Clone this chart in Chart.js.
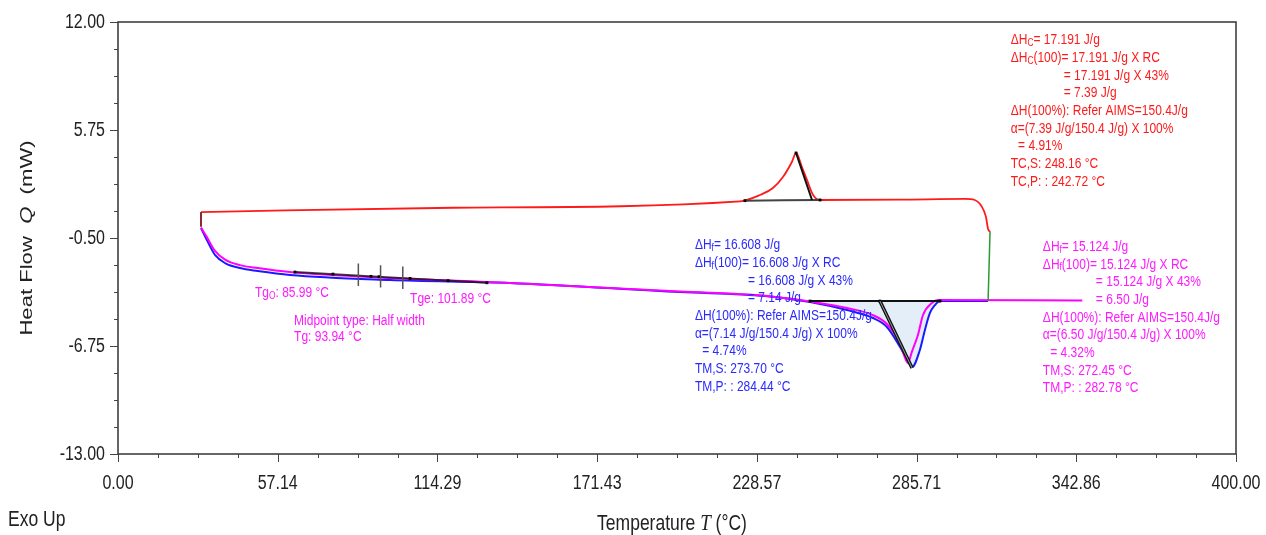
<!DOCTYPE html>
<html lang="en">
<head>
<meta charset="UTF-8">
<title>DSC heat flow</title>
<script src="https://cdn.jsdelivr.net/npm/chart.js@4.4.1/dist/chart.umd.min.js"></script>
<style>
  html, body { margin: 0; padding: 0; background: #fff; }
</style>
</head>
<body>
<canvas id="dsc" width="1266" height="535"></canvas>
<script>
// axis ticks
const xTicks = [0, 57.14, 114.29, 171.43, 228.57, 285.71, 342.86, 400];
const yTicks = [-13, -6.75, -0.5, 5.75, 12];

// heating run 1 (blue)
const blueT = [29.7, 31.8, 34.7, 38.3, 43.6, 50, 61.5, 97.3, 140.2, 201.1, 231.5, 247.6, 260.8, 270.1, 275.1, 279.8, 283.4, 284.1, 286.9, 288.7, 290.5, 292.3, 294.1, 311.3];
const blueQ = [0.08, -0.62, -1.48, -1.95, -2.24, -2.41, -2.64, -2.93, -3.10, -3.63, -3.86, -4.20, -4.67, -5.13, -5.65, -6.81, -7.85, -7.97, -6.98, -5.82, -4.84, -4.38, -4.15, -4.15];

// heating run 2 (magenta)
const magT = [29.7, 31.8, 34.7, 38.3, 43.6, 50, 61.5, 97.3, 140.2, 201.1, 231.5, 247.6, 260.8, 270.1, 275.1, 279.8, 282.6, 284.0, 286.2, 288.0, 291.2, 293.4, 345];
const magQ = [0.10, -0.45, -1.25, -1.75, -2.07, -2.24, -2.47, -2.82, -3.10, -3.60, -3.84, -4.18, -4.55, -4.96, -5.48, -6.60, -7.73, -7.10, -6.11, -4.96, -4.26, -4.09, -4.12];

// cooling run (red)
const redT = [29.7, 120, 222.5, 229.7, 234.3, 237.9, 241.1, 242.6, 244.7, 246.5, 248.7, 251.2, 280, 303, 306.5, 308.9, 310.5, 311.3, 312.0];
const redQ = [1.00, 1.25, 1.62, 1.99, 2.39, 3.03, 3.90, 4.42, 3.61, 2.86, 1.99, 1.70, 1.72, 1.76, 1.70, 1.35, 0.75, 0.02, -0.15];

// isothermal hold (green) and start jump (dark red)
const greenT = [312.0, 311.3];
const greenQ = [-0.15, -4.15];
const startT = [29.7, 29.7];
const startQ = [1.00, 0.15];

// melting area (shaded) and its baseline
const meltT = [247.6, 260.8, 270.1, 275.1, 279.8, 283.4, 284.1, 286.9, 288.7, 290.5, 292.3, 294.1];
const meltQ = [-4.20, -4.67, -5.13, -5.65, -6.81, -7.85, -7.97, -6.98, -5.82, -4.84, -4.38, -4.15];
const meltBase = -4.15;
const meltBaseT = [247.6, 294.1];
const meltTanT = [272.6, 284.1];
const meltTanQ = [-4.15, -8.02];

// crystallisation baseline and tangent
const crysBaseT = [224.3, 251.2];
const crysBaseQ = [1.66, 1.70];
const crysTanT = [242.6, 248.3];
const crysTanQ = [4.42, 1.70];

// glass transition construction
const tgLineT = [63.3, 132.0];
const tgLineQ = [-2.47, -3.09];
const tgDotT = [63.3, 76.9, 90.5, 93.4, 104.5, 118.1, 132.0];
const tgDotQ = [-2.47, -2.59, -2.72, -2.74, -2.84, -2.97, -3.09];
const tgMarkT = [85.99, 93.94, 101.89];
const tgMarkQ = [-2.63, -2.72, -2.80];

const pts = (ts, qs) => ts.map((t, i) => ({ x: t, y: qs[i] }));

// vertical marks on Tg line, broken with nulls
const tgMarks = [];
tgMarkT.forEach((t, i) => {
    tgMarks.push({ x: t, y: tgMarkQ[i] + 0.65 }, { x: t, y: tgMarkQ[i] - 0.65 }, { x: t, y: null });
});

const FONT = '"Liberation Sans", Arial, sans-serif';

function drawRich(ctx, parts, x, y, size, color, sy) {
    ctx.save();
    ctx.translate(x, y);
    ctx.scale(1, sy);
    ctx.fillStyle = color;
    ctx.textBaseline = 'middle';
    ctx.textAlign = 'left';
    let cx = 0;
    parts.forEach(p => {
        const s = typeof p === 'string' ? p : p.t;
        const sub = typeof p !== 'string' && p.sub;
        ctx.font = (sub ? size * 0.7 : size) + 'px ' + FONT;
        ctx.fillText(s, cx, sub ? size * 0.2 : 0);
        cx += ctx.measureText(s).width;
    });
    ctx.restore();
}

function block(ctx, lines, x, y, color) {
    lines.forEach((ln, i) => {
        drawRich(ctx, ln.p, x + (ln.ind || 0), y + i * 17.7, 12, color, 1.28);
    });
}

const redLines = [
    { p: ['ΔH', { t: 'C', sub: true }, '= 17.191 J/g'] },
    { p: ['ΔH', { t: 'C', sub: true }, '(100)= 17.191 J/g X RC'] },
    { ind: 53, p: ['= 17.191 J/g X 43%'] },
    { ind: 53, p: ['= 7.39 J/g'] },
    { p: ['ΔH(100%): Refer AIMS=150.4J/g'] },
    { p: ['α=(7.39 J/g/150.4 J/g) X 100%'] },
    { ind: 4, p: [' = 4.91%'] },
    { p: ['TC,S: 248.16 °C'] },
    { p: ['TC,P: : 242.72 °C'] }
];
const blueLines = [
    { p: ['ΔH', { t: 'f', sub: true }, '= 16.608 J/g'] },
    { p: ['ΔH', { t: 'f', sub: true }, '(100)= 16.608 J/g X RC'] },
    { ind: 53, p: ['= 16.608 J/g X 43%'] },
    { ind: 53, p: ['= 7.14 J/g'] },
    { p: ['ΔH(100%): Refer AIMS=150.4J/g'] },
    { p: ['α=(7.14 J/g/150.4 J/g) X 100%'] },
    { ind: 4, p: [' = 4.74%'] },
    { p: ['TM,S: 273.70 °C'] },
    { p: ['TM,P: : 284.44 °C'] }
];
const magLines = [
    { p: ['ΔH', { t: 'f', sub: true }, '= 15.124 J/g'] },
    { p: ['ΔH', { t: 'f', sub: true }, '(100)= 15.124 J/g X RC'] },
    { ind: 53, p: ['= 15.124 J/g X 43%'] },
    { ind: 53, p: ['= 6.50 J/g'] },
    { p: ['ΔH(100%): Refer AIMS=150.4J/g'] },
    { p: ['α=(6.50 J/g/150.4 J/g) X 100%'] },
    { ind: 4, p: [' = 4.32%'] },
    { p: ['TM,S: 272.45 °C'] },
    { p: ['TM,P: : 282.78 °C'] }
];

const decor = {
    id: 'decor',
    afterDraw(chart) {
        const { ctx, chartArea: a, scales: { x, y } } = chart;
        ctx.save();
        // frame
        ctx.strokeStyle = '#333';
        ctx.lineWidth = 1.5;
        ctx.strokeRect(a.left, a.top, a.right - a.left, a.bottom - a.top);

        // ticks
        ctx.lineWidth = 1;
        ctx.strokeStyle = '#444';
        ctx.beginPath();
        for (let i = 0; i <= 28; i++) {
            const px = Math.round(x.getPixelForValue(i * 400 / 28)) + 0.5;
            ctx.moveTo(px, a.bottom);
            ctx.lineTo(px, a.bottom + (i % 4 === 0 ? 8 : 4));
        }
        for (let i = 0; i <= 16; i++) {
            const py = Math.round(y.getPixelForValue(-13 + i * 25 / 16)) + 0.5;
            ctx.moveTo(a.left, py);
            ctx.lineTo(a.left - (i % 4 === 0 ? 8 : 4), py);
        }
        ctx.stroke();

        // tick labels
        xTicks.forEach(v => {
            ctx.save();
            ctx.translate(x.getPixelForValue(v), 483);
            ctx.scale(1, 1.25);
            ctx.font = '16px ' + FONT;
            ctx.fillStyle = '#222';
            ctx.textAlign = 'center';
            ctx.textBaseline = 'middle';
            ctx.fillText(v.toFixed(2), 0, 0);
            ctx.restore();
        });
        yTicks.forEach(v => {
            ctx.save();
            ctx.translate(105, y.getPixelForValue(v));
            ctx.scale(1, 1.25);
            ctx.font = '16px ' + FONT;
            ctx.fillStyle = '#222';
            ctx.textAlign = 'right';
            ctx.textBaseline = 'middle';
            ctx.fillText(v.toFixed(2), 0, 0);
            ctx.restore();
        });

        // axis titles
        ctx.save();
        ctx.translate(672, 524);
        ctx.scale(1, 1.25);
        ctx.fillStyle = '#222';
        ctx.textBaseline = 'middle';
        ctx.font = '17.5px ' + FONT;
        const t1 = 'Temperature ', t2 = 'T', t3 = ' (°C)';
        const w1 = ctx.measureText(t1).width, w3 = ctx.measureText(t3).width;
        ctx.font = 'italic 19px "Liberation Serif", serif';
        const w2 = ctx.measureText(t2).width;
        let sx = -(w1 + w2 + w3) / 2;
        ctx.font = '17.5px ' + FONT;
        ctx.fillText(t1, sx, 0);
        ctx.font = 'italic 19px "Liberation Serif", serif';
        ctx.fillText(t2, sx + w1, 0);
        ctx.font = '17.5px ' + FONT;
        ctx.fillText(t3, sx + w1 + w2, 0);
        ctx.restore();

        ctx.save();
        ctx.translate(27, 238);
        ctx.rotate(-Math.PI / 2);
        ctx.scale(1.3, 1);
        ctx.fillStyle = '#222';
        ctx.textBaseline = 'middle';
        ctx.font = '17px ' + FONT;
        const h1 = 'Heat Flow  ', h2 = 'Q', h3 = '  (mW)';
        const a1 = ctx.measureText(h1).width, a3 = ctx.measureText(h3).width;
        ctx.font = 'italic 17px ' + FONT;
        const a2 = ctx.measureText(h2).width;
        sx = -(a1 + a2 + a3) / 2;
        ctx.font = '17px ' + FONT;
        ctx.fillText(h1, sx, 0);
        ctx.font = 'italic 17px ' + FONT;
        ctx.fillText(h2, sx + a1, 0);
        ctx.font = '17px ' + FONT;
        ctx.fillText(h3, sx + a1 + a2, 0);
        ctx.restore();

        ctx.save();
        ctx.translate(8, 520);
        ctx.scale(1, 1.25);
        ctx.fillStyle = '#222';
        ctx.font = '17.5px ' + FONT;
        ctx.textBaseline = 'middle';
        ctx.fillText('Exo Up', 0, 0);
        ctx.restore();

        // annotations
        block(ctx, redLines, x.getPixelForValue(319.4), y.getPixelForValue(10.96), '#ff1a1a');
        block(ctx, blueLines, x.getPixelForValue(206.4), y.getPixelForValue(-0.9), '#2a2aff');
        block(ctx, magLines, x.getPixelForValue(330.9), y.getPixelForValue(-1.0), '#ff1aff');

        const mg = '#ff1aff';
        drawRich(ctx, ['Tg', { t: 'O', sub: true }, ': 85.99 °C'], x.getPixelForValue(49.0), y.getPixelForValue(-3.68), 12, mg, 1.28);
        drawRich(ctx, ['Tge: 101.89 °C'], x.getPixelForValue(104.5), y.getPixelForValue(-4.03), 12, mg, 1.28);
        drawRich(ctx, ['Midpoint type: Half width'], x.getPixelForValue(63.0), y.getPixelForValue(-5.30), 12, mg, 1.28);
        drawRich(ctx, ['Tg: 93.94 °C'], x.getPixelForValue(63.0), y.getPixelForValue(-6.23), 12, mg, 1.28);
        ctx.restore();
    }
};

const line = (data, color, width, order, extra) => Object.assign({
    data, borderColor: color, borderWidth: width, pointRadius: 0, fill: false,
    order, cubicInterpolationMode: 'monotone'
}, extra || {});

new Chart(document.getElementById('dsc'), {
    type: 'line',
    data: {
        datasets: [
            line(pts(meltT, meltQ), 'rgba(0,0,0,0)', 0, 20, { fill: { value: meltBase }, backgroundColor: 'rgba(222,235,248,0.85)' }),
            line(pts(blueT, blueQ), '#1a1aff', 2, 8),
            line(pts(magT, magQ), '#ff00ff', 2, 7),
            line(pts(redT, redQ), '#ff1a1a', 1.8, 7),
            line(pts(greenT, greenQ), '#2f9a2f', 1.5, 6),
            line(pts(startT, startQ), '#8b2a2a', 2, 6),
            line(pts(meltBaseT, [meltBase, meltBase]), '#111', 2, 3),
            line(pts(crysBaseT, crysBaseQ), '#444', 2, 3),
            line(pts(tgLineT, tgLineQ), 'rgba(20,20,20,0.8)', 2, 3),
            line(pts(meltTanT, meltTanQ), '#111', 3.5, 2),
            line(pts(meltTanT, meltTanQ), '#999', 1, 1),
            line(pts(crysTanT, crysTanQ), '#111', 2, 2),
            line(tgMarks, '#555', 1.5, 1, { spanGaps: false, cubicInterpolationMode: 'default' }),
            line(pts(tgDotT, tgDotQ), 'rgba(0,0,0,0)', 0, 1, { showLine: false, pointRadius: 2, pointStyle: 'rect', pointBackgroundColor: '#000', pointBorderWidth: 0 }),
            line(pts([247.6, 272.6, 294.1, 224.3, 242.6, 251.2], [-4.15, -4.15, -4.15, 1.66, 4.42, 1.70]), 'rgba(0,0,0,0)', 0, 1, { showLine: false, pointRadius: 2, pointStyle: 'rect', pointBackgroundColor: '#000', pointBorderWidth: 0 })
        ]
    },
    options: {
        responsive: false,
        animation: false,
        events: [],
        layout: { padding: { top: 22, right: 30, left: 0, bottom: 0 } },
        plugins: { legend: { display: false }, tooltip: { enabled: false } },
        scales: {
            x: {
                type: 'linear', min: 0, max: 400,
                ticks: { display: false }, grid: { display: false }, border: { display: false },
                afterFit(s) { s.height = 81; }
            },
            y: {
                type: 'linear', min: -13, max: 12,
                ticks: { display: false }, grid: { display: false }, border: { display: false },
                afterFit(s) { s.width = 118; }
            }
        }
    },
    plugins: [decor]
});
</script>
</body>
</html>
